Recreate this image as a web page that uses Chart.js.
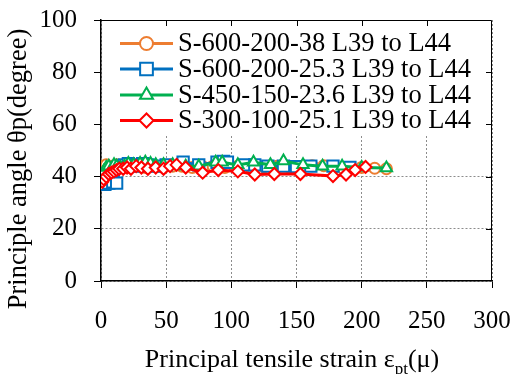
<!DOCTYPE html>
<html>
<head>
<meta charset="utf-8">
<script src="https://cdn.jsdelivr.net/npm/chart.js@4.4.1/dist/chart.umd.min.js"></script>
<style>
  html, body { margin: 0; padding: 0; background: #fff; }
  canvas { display: block; }
</style>
</head>
<body>
<canvas id="chart" width="513" height="374"></canvas>
<script>
// series names
const seriesNames = [
  'S-600-200-38 L39 to L44',
  'S-600-200-25.3 L39 to L44',
  'S-450-150-23.6 L39 to L44',
  'S-300-100-25.1 L39 to L44'
];

// principal tensile strain (x) and principal angle (y)
const orangeX = [0, 2, 4, 6, 8, 10, 12, 14, 16, 18, 20, 23, 26, 30, 34, 38, 43, 48, 55, 62, 70, 78, 86, 95, 105, 115, 125, 135, 145, 155, 162, 171, 179, 186, 200, 210, 219];
const orangeY = [43, 44, 44.5, 43.5, 44, 43, 44.5, 43.5, 44, 44.5, 43.5, 44, 44.5, 44, 43.5, 44, 44, 43.5, 44, 44, 43.5, 43.8, 44, 43.5, 44, 43.5, 43.8, 44, 43.5, 43.8, 44.2, 44.2, 43.5, 43, 43.5, 43.2, 43];

const blueX = [0, 3, 6, 9, 12, 15, 18, 21, 24, 28, 32, 36, 42, 50, 63, 75, 89, 94, 97, 110, 118, 128, 140, 150, 161, 178, 191];
const blueY = [37.5, 37, 37.5, 38, 37.5, 44, 44.5, 45, 44.5, 44, 45, 44.5, 44, 44.5, 45.5, 44.5, 45.5, 45.8, 45.5, 44.5, 44.5, 44, 44, 43.8, 44, 44, 43.5];

const greenX = [2, 4, 6, 8, 10, 12, 15, 18, 21, 25, 30, 34, 38, 42, 48, 55, 65, 75, 88, 93, 105, 117, 130, 140, 155, 170, 185, 200, 219];
const greenY = [42, 43.5, 44, 43, 44.5, 44, 43.5, 44, 45, 44.5, 45, 45.5, 45, 44.5, 44.5, 44.5, 44, 44, 45.5, 45.5, 44.5, 45.5, 44.5, 46, 44.5, 44, 44, 43.5, 43.3];

const redX = [1, 2, 4, 6, 8, 10, 12, 14, 17, 20, 23, 27, 31, 36, 42, 48, 53, 58, 65, 78, 90, 105, 118, 133, 153, 178, 188, 195, 203];
const redY = [38, 39, 40, 41, 41.5, 42, 42.5, 43, 43, 43.5, 43, 44, 43.5, 43, 43.5, 43, 44, 44.5, 43.5, 41.5, 42.5, 42, 40.8, 41, 41, 40.2, 40.8, 42.5, 43.7];

// axis ticks
const xTicks = [0, 50, 100, 150, 200, 250, 300];
const yTicks = [0, 20, 40, 60, 80, 100];

const serif = "'Liberation Serif', 'Times New Roman', serif";

function pts(xs, ys) {
  return xs.map((x, i) => ({ x: x, y: ys[i] }));
}

function series(i, xs, ys, color, style, radius, order) {
  return {
    label: seriesNames[i],
    data: pts(xs, ys),
    showLine: true,
    borderColor: color,
    backgroundColor: '#fff',
    borderWidth: 3,
    pointStyle: style,
    pointRadius: radius,
    pointBorderWidth: 2,
    pointBorderColor: color,
    pointBackgroundColor: '#fff',
    order: order
  };
}

const datasets = [
  series(0, orangeX, orangeY, '#ED7D31', 'circle', 5.5, 3),
  series(1, blueX, blueY, '#0070C0', 'rect', 8, 2),
  series(2, greenX, greenY, '#00B050', 'triangle', 6.5, 1),
  series(3, redX, redY, '#FF0000', 'rectRot', 6, 0)
];

// no extra edge padding from the tick labels
function noPad(s) {
  s.paddingLeft = 0;
  s.paddingRight = 0;
  s.paddingTop = 0;
  s.paddingBottom = 0;
}

// legend inside the plot, axis frame and titles
const decor = {
  id: 'decor',
  afterDraw(chart) {
    const ctx = chart.ctx;
    const a = chart.chartArea;
    const xs = chart.scales.x, ys = chart.scales.y;

    // legend box
    ctx.save();
    ctx.fillStyle = '#fff';
    ctx.fillRect(a.left + 1, a.top + 1, a.right - a.left - 2, 113);
    const rowY = [43.5, 69, 95, 120.5];
    chart.data.datasets.forEach((ds, i) => {
      const y = rowY[i];
      ctx.strokeStyle = ds.borderColor;
      ctx.lineWidth = 3;
      ctx.beginPath();
      ctx.moveTo(120, y);
      ctx.lineTo(173, y);
      ctx.stroke();
      ctx.fillStyle = '#fff';
      ctx.lineWidth = 2;
      Chart.helpers.drawPoint(ctx, {
        pointStyle: ds.pointStyle,
        radius: ds.pointRadius + 1,
        rotation: 0,
        borderWidth: 2
      }, 146.5, y);
      ctx.fillStyle = '#000';
      ctx.font = '26.5px ' + serif;
      ctx.textBaseline = 'middle';
      ctx.textAlign = 'left';
      ctx.fillText(ds.label, 178, y + 1);
    });
    ctx.restore();

    // frame and inner ticks on top / right
    ctx.save();
    ctx.strokeStyle = '#000';
    ctx.lineWidth = 1;
    ctx.beginPath();
    ctx.moveTo(a.left, a.top + 0.5);
    ctx.lineTo(a.right - 0.5, a.top + 0.5);
    ctx.lineTo(a.right - 0.5, a.bottom);
    xTicks.slice(1, -1).forEach(v => {
      const px = Math.round(xs.getPixelForValue(v)) + 0.5;
      ctx.moveTo(px, a.top);
      ctx.lineTo(px, a.top + 6);
    });
    yTicks.slice(1, -1).forEach(v => {
      const py = Math.round(ys.getPixelForValue(v)) + 0.5;
      ctx.moveTo(a.right, py);
      ctx.lineTo(a.right - 6, py);
    });
    ctx.stroke();
    ctx.restore();

    // y title
    ctx.save();
    ctx.fillStyle = '#000';
    ctx.font = '26.5px ' + serif;
    ctx.textAlign = 'center';
    ctx.textBaseline = 'alphabetic';
    ctx.translate(26, 169);
    ctx.rotate(-Math.PI / 2);
    ctx.fillText('Principle angle θp(degree)', 0, 0);
    ctx.restore();

    // x title with subscript
    ctx.save();
    ctx.fillStyle = '#000';
    ctx.textBaseline = 'alphabetic';
    ctx.textAlign = 'left';
    const big = '26px ' + serif, small = '17px ' + serif;
    const p1 = 'Principal tensile strain ε', sub = 'pt', p2 = '(μ)';
    ctx.font = big;
    const w1 = ctx.measureText(p1).width, w3 = ctx.measureText(p2).width;
    ctx.font = small;
    const w2 = ctx.measureText(sub).width;
    let x = 292 - (w1 + w2 + w3) / 2;
    const base = 367;
    ctx.font = big;
    ctx.fillText(p1, x, base);
    x += w1;
    ctx.font = small;
    ctx.fillText(sub, x, base + 7);
    x += w2;
    ctx.font = big;
    ctx.fillText(p2, x, base);
    ctx.restore();
  }
};

new Chart(document.getElementById('chart').getContext('2d'), {
  type: 'scatter',
  data: { datasets: datasets },
  plugins: [decor],
  options: {
    responsive: false,
    animation: false,
    layout: { padding: { top: 20, right: 21, left: 0, bottom: 0 } },
    plugins: {
      legend: { display: false },
      tooltip: { enabled: false }
    },
    scales: {
      x: {
        type: 'linear',
        min: 0,
        max: 300,
        afterBuildTicks: s => { s.ticks = xTicks.map(v => ({ value: v })); },
        afterFit: s => { s.height = 93; noPad(s); },
        ticks: { color: '#000', font: { family: serif, size: 25 }, padding: 18, maxRotation: 0 },
        grid: { color: '#8c8c8c', tickColor: '#000', tickLength: 7, lineWidth: 1 },
        border: { color: '#000', width: 1.5, dash: [2, 2] }
      },
      y: {
        min: 0,
        max: 100,
        afterBuildTicks: s => { s.ticks = yTicks.map(v => ({ value: v })); },
        afterFit: s => { s.width = 101; noPad(s); },
        ticks: { color: '#000', font: { family: serif, size: 25 }, padding: 17 },
        grid: { color: '#8c8c8c', tickColor: '#000', tickLength: 7, lineWidth: 1 },
        border: { color: '#000', width: 1.5, dash: [2, 2] }
      }
    }
  }
});
</script>
</body>
</html>
